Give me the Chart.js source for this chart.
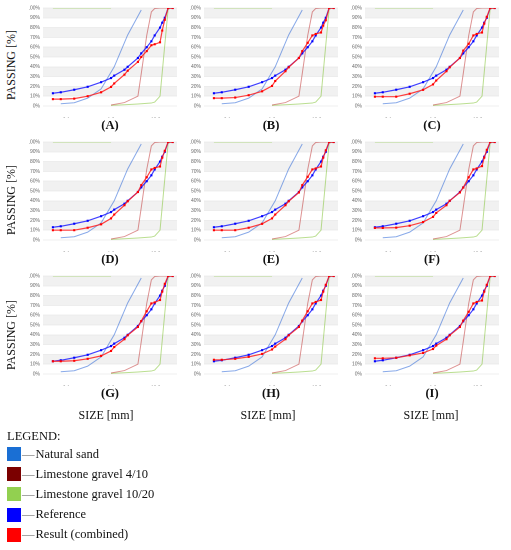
<!DOCTYPE html>
<html>
<head>
<meta charset="utf-8">
<script src="https://cdn.jsdelivr.net/npm/chart.js@4.4.1/dist/chart.umd.min.js"></script>
<style>
  body { margin: 0; background: #fff; }
  #page { position: relative; width: 511px; height: 550px; overflow: hidden; font-family: "Liberation Serif", "DejaVu Serif", serif; color: #111; }
  canvas { position: absolute; }
  .lbl { position: absolute; white-space: nowrap; transform: translate(-50%, -50%); }
  .passing { font-size: 12px; transform: translate(-50%, -50%) rotate(-90deg); }
  .letter { font-size: 12.5px; font-weight: bold; }
  .size { font-size: 12px; }
  .legend { position: absolute; left: 7px; font-size: 12.5px; white-space: nowrap; }
  .item { position: absolute; left: 7px; height: 14px; display: flex; align-items: center; font-size: 12.5px; white-space: nowrap; }
  .sw { width: 14px; height: 14px; margin-right: 1px; }
  .dash { color: #777; margin-right: 1px; }
</style>
</head>
<body>
<div id="page"></div>
<script>
// sieve sizes [mm] shared by the reference and result curves
const sieveSizes = [0.05, 0.075, 0.15, 0.3, 0.6, 1.0, 1.18, 2.0, 2.36, 4.0, 4.75, 6.3, 8.0, 9.5, 12.5, 14, 16, 19, 24];
const referencePassing = [13, 14, 16.6, 19.6, 24.3, 28.5, 31, 37, 40, 49, 53.7, 60, 66, 72, 80, 85, 90, 100, 100];

// result (combined) for each mix
const resultA = [7, 7, 7.5, 10, 14, 19.5, 23, 32, 36, 45, 50, 56, 62, 63, 65, 77, 88, 100, 100];
const resultB = [8, 8, 8.6, 11, 15, 20.5, 25.5, 35.5, 39.5, 49, 56, 64.5, 72, 73.5, 75, 82, 87.5, 100, 100];
const resultC = [9.5, 9.5, 9.5, 12.5, 16.5, 22, 26, 35.5, 39.5, 49, 56.5, 63.5, 72, 73.5, 75, 84, 91, 100, 100];
const resultD = [10, 10, 10, 12.5, 16, 22, 26, 35.5, 39.5, 49, 56, 64, 72, 73.5, 75, 84, 91, 100, 100];
const resultE = [10, 10, 10, 12.5, 16.5, 22, 26, 35.5, 39.5, 48.5, 56, 64.5, 72, 73, 75, 84, 91.5, 100, 100];
const resultF = [12.3, 12.3, 12.6, 14.6, 18.3, 23.6, 27.6, 35.5, 40, 48.5, 53.5, 64, 72, 73, 75.4, 84, 92, 100, 100];
const resultG = [13, 13, 13.5, 15.5, 18.5, 23.5, 27.5, 35.5, 39.5, 48, 54, 64, 72, 73, 75.5, 84, 92, 100, 100];
const resultH = [14.5, 14.5, 15.5, 17.5, 20.5, 25, 28, 35.5, 39.5, 48, 54.5, 64, 72, 73.5, 75.5, 84, 91, 100, 100];
const resultI = [16, 16, 16.5, 19, 21.5, 25.5, 29, 35.5, 39.5, 48, 54.5, 63.5, 72, 73.5, 75, 84, 91, 100, 100];

// component materials (same in every panel)
const sandSizes = [0.075, 0.15, 0.3, 0.6, 1.18, 2.36, 4.75];
const sandPassing = [2.3, 3.3, 8, 17.5, 40, 72.5, 98];
const gravel410Sizes = [1.0, 2.0, 4.0, 4.75, 6.3, 8.0, 9.5, 12.5, 24];
const gravel410Passing = [1, 3.5, 10, 33, 72, 96, 99.5, 100, 100];
const gravel1020Sizes = [0.05, 1.0, 1.0, 1.0, 2.0, 4.0, 8.0, 9.5, 12.5, 19, 24];
const gravel1020Passing = [100, 100, null, 0.7, 1.3, 2, 3, 4, 10, 99, 100];

const panelLetters = ['A', 'B', 'C', 'D', 'E', 'F', 'G', 'H', 'I'];
const panelResults = [resultA, resultB, resultC, resultD, resultE, resultF, resultG, resultH, resultI];
const xTickValues = [0.1, 1, 10];

const legendNames = ['Natural sand', 'Limestone gravel 4/10', 'Limestone gravel 10/20', 'Reference', 'Result (combined)'];
const legendColors = ['#1a6fd4', '#7b0000', '#92d050', '#0000ff', '#ff0000'];

// layout
const plotLefts = [43, 204, 365];
const plotTops = [6, 140, 274];
const plotW = 134, plotH = 100;
const padL = 16, padT = 4;

const page = document.getElementById('page');

function addText(cls, text, x, y) {
    const d = document.createElement('div');
    d.className = 'lbl ' + cls;
    d.textContent = text;
    d.style.left = x + 'px';
    d.style.top = y + 'px';
    page.appendChild(d);
}

function pts(xs, ys) {
    return xs.map((x, i) => ({ x: x, y: ys[i] }));
}

// grey bands every other 10%
const bandPlugin = {
    id: 'bands',
    beforeDraw(chart) {
        const { ctx, chartArea: a, scales: { y } } = chart;
        ctx.save();
        ctx.fillStyle = '#f1f1f1';
        for (let v = 10; v < 100; v += 20) {
            const top = y.getPixelForValue(v + 10);
            const bot = y.getPixelForValue(v);
            ctx.fillRect(a.left, top, a.right - a.left, bot - top);
        }
        ctx.restore();
    }
};

const tickFont = { family: 'Liberation Sans', size: 5 };

panelLetters.forEach((letter, i) => {
    const col = i % 3, row = Math.floor(i / 3);
    const cv = document.createElement('canvas');
    cv.width = plotW + padL + 4;
    cv.height = plotH + padT + 2 + 12;
    cv.style.left = (plotLefts[col] - padL) + 'px';
    cv.style.top = (plotTops[row] - padT) + 'px';
    page.appendChild(cv);

    new Chart(cv.getContext('2d'), {
        type: 'line',
        data: {
            datasets: [
                {
                    label: 'Result (combined)',
                    data: pts(sieveSizes, panelResults[i]),
                    borderColor: 'rgba(255,30,30,0.85)',
                    backgroundColor: '#ff0000',
                    borderWidth: 1.2,
                    pointStyle: 'rect',
                    pointRadius: 1.5,
                    pointBorderWidth: 0
                },
                {
                    label: 'Reference',
                    data: pts(sieveSizes, referencePassing),
                    borderColor: 'rgba(30,30,255,0.85)',
                    backgroundColor: '#0000ff',
                    borderWidth: 1.2,
                    pointStyle: 'rect',
                    pointRadius: 1.5,
                    pointBorderWidth: 0
                },
                {
                    label: 'Natural sand',
                    data: pts(sandSizes, sandPassing),
                    borderColor: 'rgba(40,100,215,0.55)',
                    borderWidth: 1,
                    pointRadius: 0
                },
                {
                    label: 'Limestone gravel 4/10',
                    data: pts(gravel410Sizes, gravel410Passing),
                    borderColor: 'rgba(190,40,40,0.5)',
                    borderWidth: 1,
                    pointRadius: 0
                },
                {
                    label: 'Limestone gravel 10/20',
                    data: pts(gravel1020Sizes, gravel1020Passing),
                    borderColor: 'rgba(140,200,70,0.6)',
                    borderWidth: 1,
                    pointRadius: 0,
                    spanGaps: false
                }
            ]
        },
        options: {
            responsive: false,
            animation: false,
            devicePixelRatio: 2,
            layout: { padding: { left: 2, right: 4, top: padT, bottom: 2 } },
            elements: { line: { tension: 0 } },
            plugins: { legend: { display: false }, tooltip: { enabled: false } },
            scales: {
                x: {
                    type: 'logarithmic',
                    min: 0.03,
                    max: 30,
                    afterBuildTicks: (scale) => { scale.ticks = xTickValues.map(v => ({ value: v })); },
                    afterFit: (scale) => { scale.height = 12; },
                    ticks: {
                        autoSkip: false,
                        maxRotation: 0,
                        padding: 3,
                        font: tickFont,
                        color: '#666',
                        callback: (v) => Number(v).toFixed(1)
                    },
                    grid: { display: false },
                    border: { display: false }
                },
                y: {
                    min: 0,
                    max: 100,
                    afterFit: (scale) => { scale.width = 14; },
                    ticks: {
                        stepSize: 10,
                        padding: 3,
                        font: tickFont,
                        color: '#666',
                        callback: (v) => v + '%'
                    },
                    grid: { color: '#e2e2e2', lineWidth: 0.6, drawTicks: false },
                    border: { display: false }
                }
            }
        },
        plugins: [bandPlugin]
    });

    addText('letter', '(' + letter + ')', plotLefts[col] + 67, plotTops[row] + 119);
});

// axis titles
[65, 200, 335].forEach(y => addText('passing', 'PASSING [%]', 11, y));
[106, 268, 431].forEach(x => addText('size', 'SIZE [mm]', x, 415));

// legend
const lg = document.createElement('div');
lg.className = 'legend';
lg.textContent = 'LEGEND:';
lg.style.top = '429px';
page.appendChild(lg);

legendNames.forEach((name, i) => {
    const it = document.createElement('div');
    it.className = 'item';
    it.style.top = (447 + i * 20.2) + 'px';
    it.innerHTML = '<div class="sw" style="background:' + legendColors[i] + '"></div>' +
        '<span class="dash">\u2014</span><span>' + name + '</span>';
    page.appendChild(it);
});
</script>
</body>
</html>
